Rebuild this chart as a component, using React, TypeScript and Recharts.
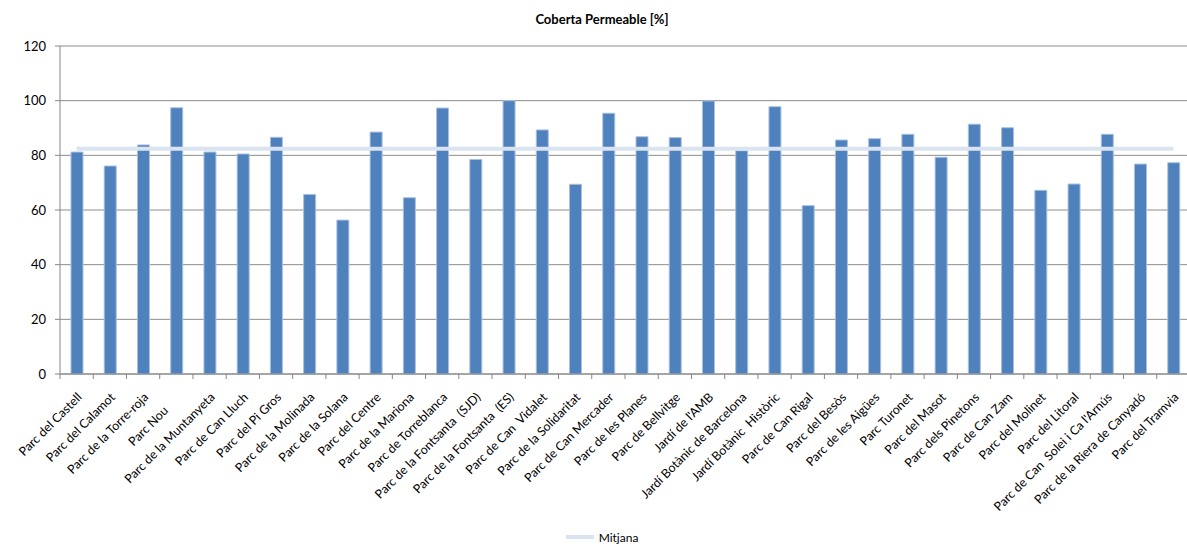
import { ComposedChart, Bar, Line, XAxis, YAxis, CartesianGrid, Legend } from "recharts";

// Parcs metropolitans, en ordre de presentació
const parcs = [
  "Parc del Castell",
  "Parc del Calamot",
  "Parc de la Torre-roja",
  "Parc Nou      ",
  "Parc de la Muntanyeta",
  "Parc de Can Lluch",
  "Parc del Pi Gros",
  "Parc de la Molinada",
  "Parc de la Solana",
  "Parc del Centre",
  "Parc de la Mariona",
  "Parc de Torreblanca",
  "Parc de la Fontsanta  (SJD)",
  "Parc de la Fontsanta  (ES)",
  "Parc de Can  Vidalet",
  "Parc de la Solidaritat",
  "Parc de Can Mercader",
  "Parc de les Planes",
  "Parc de Bellvitge",
  "Jardí de l'AMB",
  "Jardí Botànic de Barcelona",
  "Jardí Botànic  Històric",
  "Parc de Can Rigal",
  "Parc del Besòs",
  "Parc de les Aigües",
  "Parc Turonet",
  "Parc del Masot",
  "Parc dels Pinetons",
  "Parc de Can Zam",
  "Parc del Molinet",
  "Parc del Litoral",
  "Parc de Can  Solei i Ca l'Arnús",
  "Parc de la Riera de Canyadó",
  "Parc del Tramvia",
];

// Coberta permeable [%]
const cobertaPermeable = [
  81.2, 76.1, 83.8, 97.4, 81.2, 80.5, 86.6, 65.7, 56.3, 88.5,
  64.5, 97.3, 78.5, 100, 89.3, 69.4, 95.4, 86.8, 86.5, 99.9,
  81.7, 97.8, 61.6, 85.6, 86.1, 87.7, 79.3, 91.4, 90.1, 67.2,
  69.5, 87.7, 76.8, 77.3,
];

const MITJANA = 82.4;
const yTicks = [0, 20, 40, 60, 80, 100, 120];

const data = parcs.map((name, i) => ({
  name,
  coberta: cobertaPermeable[i],
  mitjana: MITJANA,
}));

const FONT = "Lato, 'Liberation Sans', sans-serif";
const AXIS_GREY = "#868686";
const CHART_W = 1190;
const CHART_H = 550;
const PLOT_LEFT = 60;
const STEP = (CHART_W - PLOT_LEFT) / parcs.length;

// category label rotated 45°, with the tick mark on the band boundary
function ParcTick(props: any) {
  const { x, y, payload } = props;
  const tx = x + 6;
  const ty = y + 24;
  return (
    <g>
      <line x1={x - STEP / 2} x2={x - STEP / 2} y1={y} y2={y + 5} stroke={AXIS_GREY} />
      <text
        x={tx}
        y={ty}
        transform={`rotate(-45, ${tx}, ${ty})`}
        textAnchor="end"
        fontSize={12.4}
        fontFamily={FONT}
        fill="#000"
        style={{ whiteSpace: "pre" }}
      >
        {payload.value}
      </text>
    </g>
  );
}

function MitjanaLegend() {
  return (
    <div
      style={{
        height: 26,
        display: "flex",
        alignItems: "center",
        justifyContent: "center",
        paddingLeft: 14,
        fontFamily: FONT,
        fontSize: 12,
        color: "#000",
      }}
    >
      <svg width={28} height={6} style={{ marginRight: 5 }}>
        <line x1={0} x2={28} y1={3} y2={3} stroke="#dae4f0" strokeWidth={4} />
      </svg>
      <span>Mitjana</span>
    </div>
  );
}

export default function App() {
  return (
    <div
      style={{
        position: "absolute",
        left: 0,
        top: 0,
        width: 1187,
        height: CHART_H,
        overflow: "hidden",
        background: "#fff",
      }}
    >
      <div
        style={{
          position: "absolute",
          top: 11,
          left: 0,
          width: 1204,
          textAlign: "center",
          fontFamily: FONT,
          fontWeight: "bold",
          fontSize: 13,
          color: "#000",
        }}
      >
        Coberta Permeable [%]
      </div>
      <ComposedChart
        width={CHART_W}
        height={CHART_H}
        data={data}
        margin={{ top: 46, right: 0, bottom: 0, left: 0 }}
        barCategoryGap={0}
      >
        <CartesianGrid vertical={false} stroke="#8c8c8c" />
        <XAxis
          dataKey="name"
          interval={0}
          height={150}
          tickSize={0}
          tickMargin={0}
          tickLine={false}
          axisLine={{ stroke: AXIS_GREY }}
          tick={<ParcTick />}
        />
        <YAxis
          width={PLOT_LEFT}
          domain={[0, 120]}
          ticks={yTicks}
          tickSize={5}
          tickMargin={9}
          axisLine={{ stroke: AXIS_GREY }}
          tickLine={{ stroke: AXIS_GREY }}
          tick={{ fontSize: 13, fontFamily: FONT, fill: "#000" }}
        />
        <Legend verticalAlign="bottom" content={<MitjanaLegend />} wrapperStyle={{ height: 26 }} />
        <Bar
          dataKey="coberta"
          fill="#4f81bd"
          stroke="#a9c0df"
          strokeWidth={1}
          barSize={12}
          isAnimationActive={false}
        />
        <Line
          dataKey="mitjana"
          type="linear"
          stroke="#dae4f0"
          strokeWidth={4}
          dot={false}
          activeDot={false}
          legendType="line"
          isAnimationActive={false}
        />
      </ComposedChart>
    </div>
  );
}
